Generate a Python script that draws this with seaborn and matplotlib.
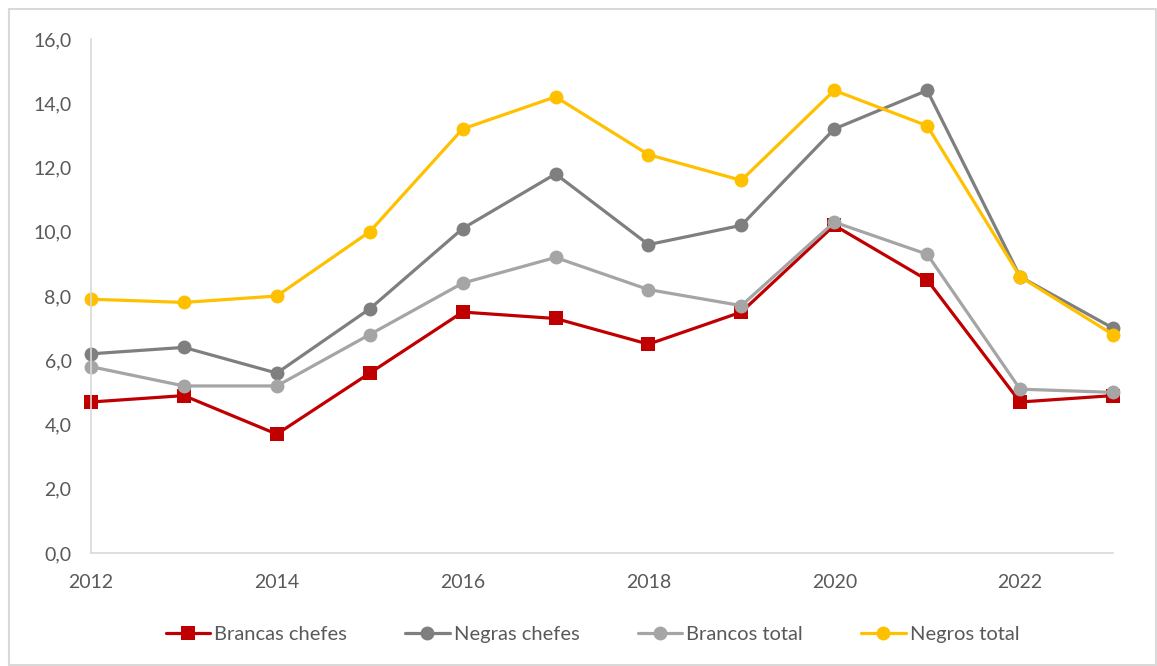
import matplotlib
matplotlib.use("Agg")
import matplotlib.pyplot as plt
from matplotlib.patches import Rectangle
from matplotlib.ticker import FuncFormatter
import seaborn as sns
import pandas as pd

years = [2012, 2013, 2014, 2015, 2016, 2017, 2018, 2019, 2020, 2021, 2022, 2023]
brancas_chefes = [4.7, 4.9, 3.7, 5.6, 7.5, 7.3, 6.5, 7.5, 10.2, 8.5, 4.7, 4.9]
negras_chefes = [6.2, 6.4, 5.6, 7.6, 10.1, 11.8, 9.6, 10.2, 13.2, 14.4, 8.6, 7.0]
brancos_total = [5.8, 5.2, 5.2, 6.8, 8.4, 9.2, 8.2, 7.7, 10.3, 9.3, 5.1, 5.0]
negros_total = [7.9, 7.8, 8.0, 10.0, 13.2, 14.2, 12.4, 11.6, 14.4, 13.3, 8.6, 6.8]
series_names = ["Brancas chefes", "Negras chefes", "Brancos total", "Negros total"]
x_ticks = [2012, 2014, 2016, 2018, 2020, 2022]
y_ticks = [0, 2, 4, 6, 8, 10, 12, 14, 16]

df = pd.DataFrame({
    "ano": years * 4,
    "valor": brancas_chefes + negras_chefes + brancos_total + negros_total,
    "serie": [s for s in series_names for _ in years],
})

sns.set_theme(style="white")
plt.rcParams["font.family"] = ["Lato", "DejaVu Sans"]

text_color = "#595959"
axis_color = "#d9d9d9"
palette = {"Brancas chefes": "#C00000", "Negras chefes": "#7F7F7F",
           "Brancos total": "#A5A5A5", "Negros total": "#FFC000"}
markers = {"Brancas chefes": "s", "Negras chefes": "o",
           "Brancos total": "o", "Negros total": "o"}

fig = plt.figure(figsize=(11.57, 6.66), dpi=100)
ax = fig.add_axes([91 / 1157, 1 - 553 / 666, (1113 - 91) / 1157, (553 - 39) / 666])

# chart-area border
fig.patches.append(Rectangle((9 / 1157, 1 / 666), 1147 / 1157, 656 / 666,
                             transform=fig.transFigure, fill=False,
                             edgecolor=axis_color, linewidth=1.5))

sns.lineplot(data=df, x="ano", y="valor", hue="serie", style="serie",
             hue_order=series_names, style_order=series_names,
             palette=palette, markers=markers, dashes=False,
             linewidth=2.3, markersize=10, markeredgewidth=0,
             ax=ax, legend=True)

# let the end markers overhang the plot area
for line in ax.lines:
    line.set_clip_on(False)

ax.set_xlim(2012, 2023)
ax.set_ylim(0, 16)
ax.set_xticks(x_ticks)
ax.set_yticks(y_ticks)
ax.yaxis.set_major_formatter(FuncFormatter(lambda v, _: f"{v:.1f}".replace(".", ",")))
ax.set_xlabel("")
ax.set_ylabel("")
ax.tick_params(axis="both", colors=text_color, labelsize=14, length=0)
ax.tick_params(axis="x", pad=15)
ax.tick_params(axis="y", pad=14)

for side in ["top", "right"]:
    ax.spines[side].set_visible(False)
for side in ["left", "bottom"]:
    ax.spines[side].set_color(axis_color)
    ax.spines[side].set_linewidth(1.2)

handles, labels = ax.get_legend_handles_labels()
ax.legend_.remove()
leg = fig.legend(handles, labels, loc="center", ncol=4,
                 bbox_to_anchor=(0.512, 1 - 634 / 666), frameon=False,
                 fontsize=14.5, handlelength=2.2, handletextpad=0.2,
                 columnspacing=2.9)
for t in leg.get_texts():
    t.set_color(text_color)

fig.savefig("out.png", dpi=100)
